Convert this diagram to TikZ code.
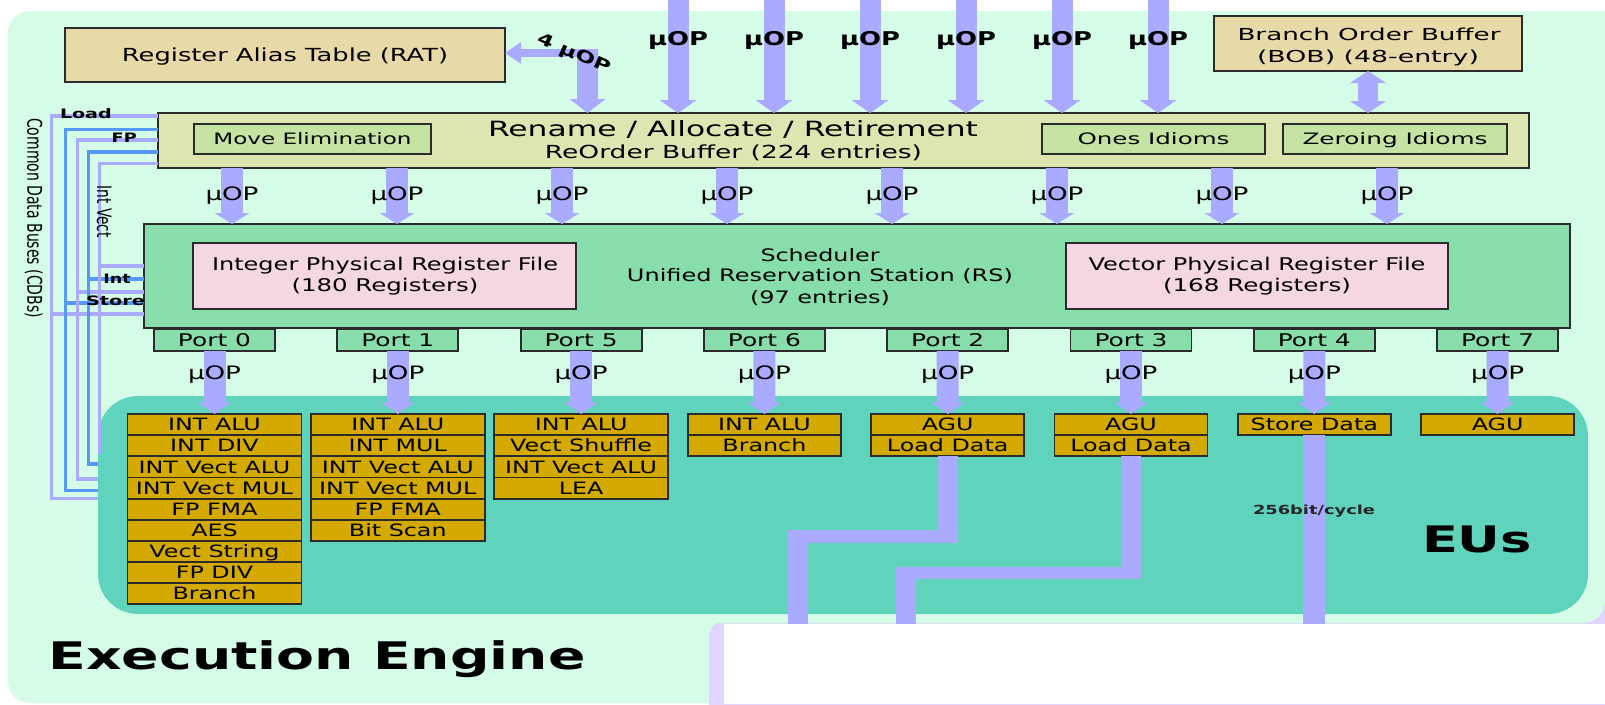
\documentclass[tikz,border=0pt]{standalone}
\usepackage{fontspec}
\setmainfont{DejaVu Sans}
\usepackage{graphicx}
\usetikzlibrary{arrows.meta}

\definecolor{mintbg}{HTML}{D5FCE7}
\definecolor{lavpanel}{HTML}{E1D5FF}
\definecolor{eufield}{HTML}{5FD3BC}
\definecolor{tanbox}{HTML}{E8DAA8}
\definecolor{renamefill}{HTML}{DDE6B0}
\definecolor{subfill}{HTML}{C5E4A4}
\definecolor{schedfill}{HTML}{87DEAA}
\definecolor{prffill}{HTML}{F4D7E3}
\definecolor{eugold}{HTML}{D4AA00}
\definecolor{flow}{HTML}{AAAAFF}
\definecolor{busblue}{HTML}{5599FF}
\definecolor{edge}{HTML}{2B2B2B}

% font size helper and horizontally widened text
\newcommand{\fsz}[1]{\fontsize{#1}{#1}\selectfont}
\newcommand{\sx}[1]{\scalebox{1.4}[1]{#1}}
\newcommand{\fw}[2]{\resizebox{#1pt}{\height}{#2}}

% one column of execution units under a port
\newcommand{\eucol}[4]{%
  \foreach \lab [count=\k from 0] in {#4} {%
    \node[eubox, minimum width=#3pt] (#1-\k) at (#2, {424.575+21.15*\k}) {\sx{\lab}};
  }}

\begin{document}
\begin{tikzpicture}[x=1pt, y=-1pt,
  boxline/.style={draw=edge, line width=1.8pt, inner sep=0pt, outer sep=0pt},
  lbl/.style={inner sep=0pt, outer sep=0pt, anchor=base},
  capsz/.style 2 args={font=\fsz{#1}, text height=#2pt, text depth=4pt},
  subbox/.style={boxline, fill=subfill, minimum height=30pt, capsz={15.7}{15.45}},
  portbox/.style={boxline, fill=schedfill, minimum width=121pt, minimum height=22pt, capsz={17.5}{16.76}},
  eubox/.style={boxline, fill=eugold, minimum height=21.15pt, capsz={17}{16.39}},
  prfbox/.style={boxline, fill=prffill, minimum height=66pt},
  bus/.style={line width=3.3pt},
  fat/.style={draw=flow, line cap=butt},
  arrtop/.style={fat, line width=21pt, -{Triangle[width=37pt,length=13pt,line width=0pt]}},
  arrbob/.style={fat, line width=19.5pt, {Triangle[width=36pt,length=12pt,line width=0pt]}-{Triangle[width=36pt,length=12pt,line width=0pt]}},
  arrmid/.style={fat, line width=22pt, -{Triangle[width=35pt,length=11pt,line width=0pt]}},
  arrport/.style={fat, line width=22pt, -{Triangle[width=34pt,length=12pt,line width=0pt]}},
  arrthin/.style={fat, line width=8pt, -{Triangle[width=22pt,length=16pt,line width=0pt]}},
  uoptop/.style={lbl, font=\bfseries\fsz{19}},
  uop/.style={lbl, font=\fsz{18.5}},
  buslbl/.style={lbl, font=\bfseries\fsz{13}},
]
\useasboundingbox (0,0) rectangle (1605,704);
\fill[white] (0,0) rectangle (1605,704);

% ---- panels ----
\fill[mintbg, rounded corners=22pt] (8,400) rectangle (740,703);
\fill[lavpanel, rounded corners=16pt] (709,621) rectangle (1650,760);
\fill[mintbg, rounded corners=22pt] (8,11) rectangle (1650,623);
\begin{scope}
  \clip (1583,601) rectangle (1605,623);
  \fill[lavpanel] (1583,601) rectangle (1605,623);
  \fill[mintbg] (1583,601) circle[radius=22pt];
\end{scope}
\node[fill=eufield, rounded corners=40pt, minimum width=1490pt, minimum height=218pt,
      inner sep=0pt, outer sep=0pt] (eus) at (843,505) {};

% ---- front end boxes ----
\node[boxline, fill=tanbox, minimum width=440pt, minimum height=54pt, capsz={18}{17.12}]
  (rat) at (285,55) {\fw{326}{Register Alias Table (RAT)}};
\node[boxline, fill=tanbox, minimum width=308pt, minimum height=55pt] (bob) at (1368,43.5) {};
\node[boxline, fill=renamefill, minimum width=1371pt, minimum height=55pt] (rename) at (843.5,140.5) {};
\node[subbox, minimum width=237pt] (moveel) at (312.5,139) {\fw{198}{Move Elimination}};
\node[subbox, minimum width=223pt] (ones) at (1153.5,139) {\fw{152}{Ones Idioms}};
\node[subbox, minimum width=224pt] (zero) at (1395,139) {\fw{185}{Zeroing Idioms}};

% ---- scheduler ----
\node[boxline, fill=schedfill, minimum width=1426pt, minimum height=104pt] (sched) at (857,276) {};
\node[prfbox, minimum width=383pt] (iprf) at (384.5,276) {};
\node[prfbox, minimum width=382pt] (vprf) at (1257,276) {};
\foreach \pn [count=\k from 0] in {0,1,5,6,2,3,4,7}
  \node[portbox] (p\k) at ({214.5+183.3*\k}, 340) {\fw{73}{Port \pn}};

% ---- execution units ----
\eucol{c0}{214.5}{174}{INT ALU,INT DIV,INT Vect ALU,INT Vect MUL,FP FMA,AES,Vect String,FP DIV,Branch}
\eucol{c1}{397.8}{174}{INT ALU,INT MUL,INT Vect ALU,INT Vect MUL,FP FMA,Bit Scan}
\eucol{c2}{581.1}{174}{INT ALU,Vect Shuffle,INT Vect ALU,LEA}
\eucol{c3}{764.4}{153}{INT ALU,Branch}
\eucol{c4}{947.7}{153}{AGU,Load Data}
\eucol{c5}{1131}{153}{AGU,Load Data}
\eucol{c6}{1314.3}{153}{Store Data}
\eucol{c7}{1497.6}{153}{AGU}

% ---- common data buses ----
\foreach \bx/\btop/\bbr/\bend/\bc in {51.7/116/314/498.3/flow, 65.7/129.3/303/490.7/busblue,
    77.3/140/292/479/flow, 88.3/152/279/464/busblue, 99.3/163.3/266/452/flow} {
  \coordinate (ba) at (\bx,\btop);
  \coordinate (bb) at (\bx,\bbr);
  \coordinate (bc) at (\bx,\bend);
  \draw[bus, draw=\bc] (ba -| rename.west) -- (ba) -- (bc) -- (bc -| eus.west);
  \draw[bus, draw=\bc] (bb) -- (bb -| sched.west);
}

% ---- micro-op flow ----
\foreach \k in {0,...,5} {
  \coordinate (t\k) at ({678+96*\k}, -2);
  \draw[arrtop] (t\k) -- (t\k |- rename.north);
}
\draw[arrbob] (bob.south) -- (bob.south |- rename.north);
\coordinate (qv) at (587.5,49);
\coordinate (qh) at (598.25,53);
\draw[fat, line width=21.5pt, -{Triangle[width=36pt,length=14pt,line width=0pt]}] (qv) -- (qv |- rename.north);
\draw[arrthin] (qh) -- (qh -| rat.east);
\foreach \k in {0,...,7} {
  \coordinate (m\k) at ({232+165*\k}, 0);
  \draw[arrmid] (rename.south -| m\k) -- (sched.north -| m\k);
}
\foreach \k in {0,...,7}
  \draw[arrport] (p\k.south) -- (c\k-0.north);

% load data and store data paths
\draw[fat, line width=20pt] (c4-1.south) -- (947.7,542.8);
\draw[fat, line width=12.5pt] (957.7,536.5) -- (787.5,536.5);
\draw[fat, line width=20pt] (797.5,530.3) -- (797.5,704);
\draw[fat, line width=20pt] (c5-1.south) -- (1131,579.3);
\draw[fat, line width=12.5pt] (1141,572.8) -- (895.5,572.8);
\draw[fat, line width=20pt] (905.5,566.5) -- (905.5,704);
\coordinate (stend) at (1314.3,704);
\draw[fat, line width=22pt] (c6-0.south) -- (stend);

\fill[white] (724,623.5) rectangle (1605,704);

% ---- labels ----
\foreach \k in {0,...,5}
  \node[uoptop] (ut\k) at ({678+96*\k}, 45) {\fw{60}{μOP}};
\foreach \k in {0,...,7}
  \node[uop] (um\k) at ({232+165*\k}, 200) {\fw{53}{μOP}};
\foreach \k in {0,...,7}
  \node[uop] (up\k) at ({214.5+183.3*\k}, 379) {\fw{53}{μOP}};
\node[inner sep=0pt, rotate=-24, font=\bfseries\fsz{16.5}] (q4) at (574,54) {\sx{4 μOP}};

\node[lbl, font=\fsz{16.5}] (bob1) at (1369,40) {\fw{263}{Branch Order Buffer}};
\node[lbl, font=\fsz{16.5}] (bob2) at (1368,62.3) {\fw{222}{(BOB) (48-entry)}};
\node[lbl, font=\fsz{21}] (ren1) at (733,136.7) {\fw{490}{Rename / Allocate / Retirement}};
\node[lbl, font=\fsz{18}] (ren2) at (733.5,158.3) {\fw{377}{ReOrder Buffer (224 entries)}};
\node[lbl, font=\fsz{17.2}] (sch1) at (820,261.7) {\fw{119}{Scheduler}};
\node[lbl, font=\fsz{17.2}] (sch2) at (820,281.7) {\fw{386}{Unified Reservation Station (RS)}};
\node[lbl, font=\fsz{17.2}] (sch3) at (820,303) {\fw{140}{(97 entries)}};
\node[lbl, font=\fsz{17.5}] (ip1) at (385,270.7) {\fw{346}{Integer Physical Register File}};
\node[lbl, font=\fsz{17.5}] (ip2) at (385,291) {\fw{187}{(180 Registers)}};
\node[lbl, font=\fsz{17.5}] (vp1) at (1257,270.7) {\fw{337}{Vector Physical Register File}};
\node[lbl, font=\fsz{17.5}] (vp2) at (1257,291) {\fw{188}{(168 Registers)}};

\node[inner sep=0pt, rotate=-90, font=\fsz{14}] (cdb) at (33.8,218) {\scalebox{1}[1.45]{Common Data Buses (CDBs)}};
\node[inner sep=0pt, rotate=-90, font=\fsz{13.7}] (ivl) at (104.2,211.7) {\scalebox{1}[1.45]{Int Vect}};
\node[buslbl, anchor=base west] (ldl) at (60,118.3) {\fw{51.7}{Load}};
\node[buslbl] (fpl) at (124.2,142.3) {\fw{25}{FP}};
\node[buslbl] (intl) at (117,283.3) {\fw{27.4}{Int}};
\node[buslbl] (stl) at (115.5,305) {\fw{59}{Store}};

\node[lbl, font=\bfseries\fsz{12.5}, text=black!85] (bw) at (1314,514.5) {\fw{122}{256bit/cycle}};
\node[lbl, font=\bfseries\fsz{36.5}] (eul) at (1477,552.7) {\fw{110}{EUs}};
\node[lbl, anchor=base west, font=\bfseries\fsz{38}] (ee) at (48.5,669) {\fw{537}{Execution Engine}};
\end{tikzpicture}
\end{document}
